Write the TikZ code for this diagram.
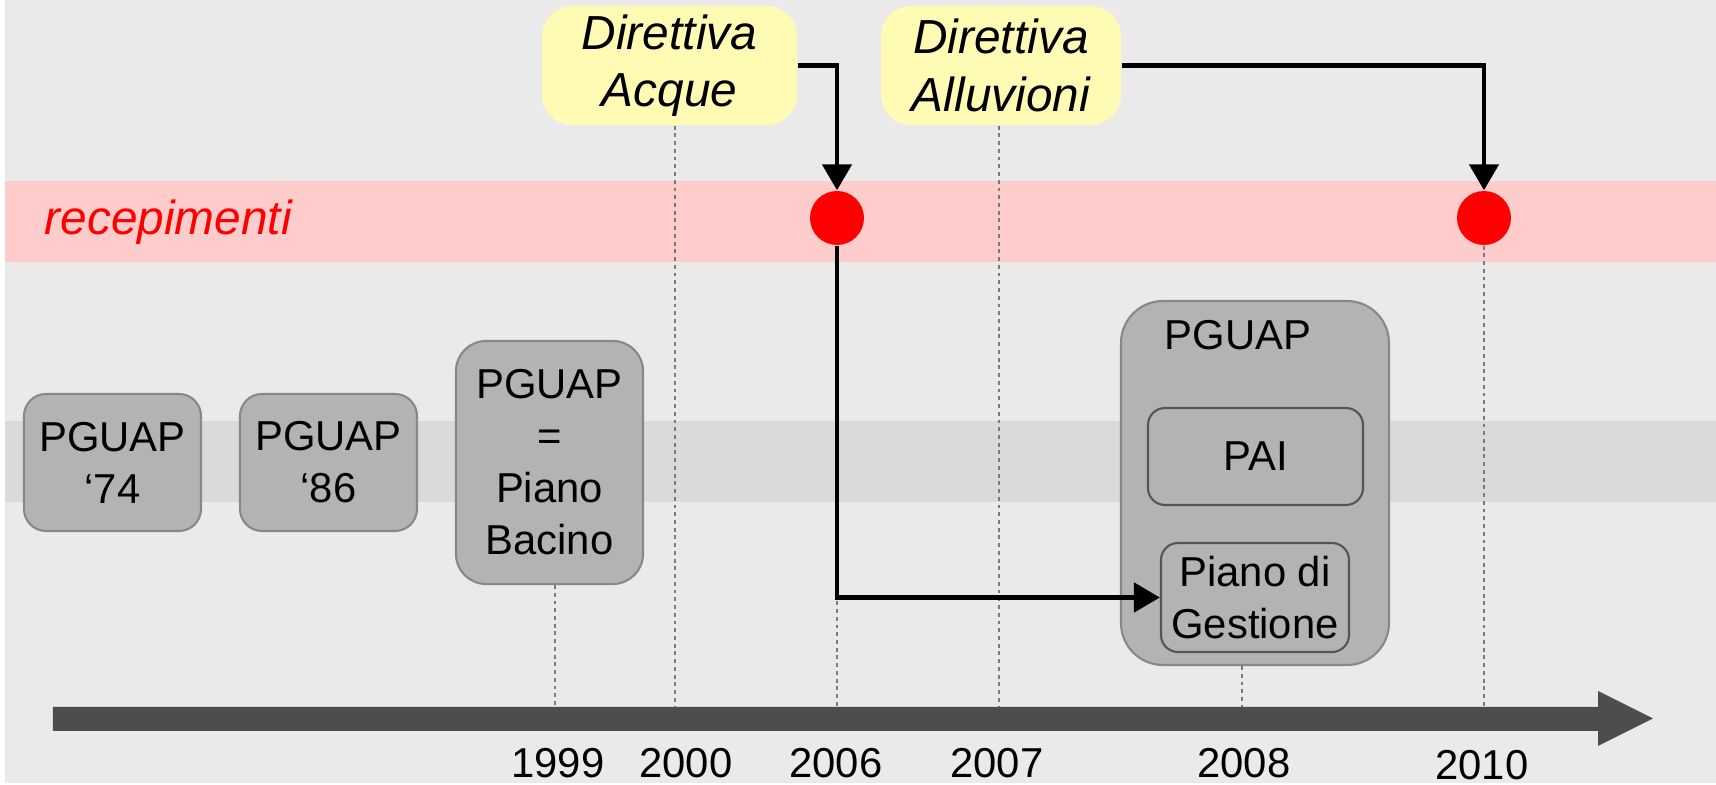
\documentclass[tikz,border=0pt]{standalone}
\usepackage{fontspec}
\setmainfont{Liberation Sans}
\usetikzlibrary{positioning, arrows.meta}

\definecolor{bggray}{HTML}{EAEAEA}
\definecolor{recpink}{HTML}{FFCCCC}
\definecolor{bandgray}{HTML}{DADADA}
\definecolor{boxfill}{HTML}{B3B3B3}
\definecolor{boxedge}{HTML}{888888}
\definecolor{inneredge}{HTML}{555555}
\definecolor{dirfill}{HTML}{FFFAB4}
\definecolor{axisgray}{HTML}{4D4D4D}
\definecolor{guidegray}{HTML}{7A7A7A}

\newcommand{\regtxt}{\fontsize{11.9}{14.8}\selectfont}
\newcommand{\ittxt}{\fontsize{13.6}{16.4}\selectfont\itshape}

\begin{document}
\begin{tikzpicture}[
    piano/.style={draw=boxedge, fill=boxfill, line width=0.6pt, rounded corners=0.22cm, align=center, inner sep=0pt, font=\regtxt},
    subpiano/.style={piano, draw=inneredge, rounded corners=0.17cm},
    direttiva/.style={fill=dirfill, rounded corners=0.3cm, align=center, inner sep=0pt, font=\ittxt},
    recep/.style={circle, fill=red, inner sep=0pt, minimum size=0.54cm},
    anno/.style={anchor=base, font=\regtxt, inner sep=0pt},
    guide/.style={draw=guidegray, line width=0.6pt, dash pattern=on 1.1pt off 1.1pt},
    conn/.style={draw=black, line width=1.4pt, -{Triangle[length=0.26cm,width=0.29cm]}}
]
    \useasboundingbox (0,0) rectangle (17.16,7.85);
    \fill[bggray] (0.05,0.02) rectangle (17.16,7.85);
    \fill[recpink] (0.05,5.23) rectangle (17.16,6.04);
    \fill[bandgray] (0.05,2.83) rectangle (17.16,3.64);

    \node[anchor=base west, inner sep=0pt, text=red, font=\ittxt] (recepimenti) at (0.44,5.50) {recepimenti};

    \node[direttiva, minimum width=2.55cm, minimum height=1.19cm] (acque) at (6.695,7.195) {Direttiva\\Acque};
    \node[direttiva, minimum width=2.40cm, minimum height=1.19cm] (alluvioni) at (10.01,7.195) {Direttiva\\Alluvioni};
    \node[recep] (r06) at (8.37,5.67) {};
    \node[recep] (r10) at (14.84,5.67) {};

    \node[piano, minimum width=1.77cm, minimum height=1.37cm] (pg74) at (1.125,3.225) {PGUAP\\‘74};
    \node[piano, minimum width=1.77cm, minimum height=1.37cm] (pg86) at (3.285,3.225) {PGUAP\\‘86};
    \node[piano, minimum width=1.87cm, minimum height=2.43cm, rounded corners=0.3cm] (pgbacino) at (5.495,3.225) {PGUAP\\=\\Piano\\Bacino};
    \node[piano, minimum width=2.68cm, minimum height=3.64cm, rounded corners=0.42cm] (pg08) at (12.55,3.02) {};
    \node[font=\regtxt, inner sep=0pt] (pg08title) at (12.38,4.50) {PGUAP};
    \node[subpiano, minimum width=2.15cm, minimum height=0.97cm] (pai) at (12.555,3.285) {PAI};
    \node[subpiano, minimum width=1.88cm, minimum height=1.09cm] (gestione) at (12.55,1.875) {Piano di\\Gestione};

    \coordinate (t1999) at (5.55,0.78);
    \coordinate (t2000) at (6.75,0.78);
    \coordinate (t2006) at (8.37,0.78);
    \coordinate (t2007) at (9.99,0.78);
    \coordinate (t2008) at (12.42,0.78);
    \coordinate (t2010) at (14.84,0.78);

    \draw[guide] (t1999 |- pgbacino.south) -- (t1999);
    \draw[guide] (t2000 |- acque.south) -- (t2000);
    \draw[guide] (r06.south) -- (t2006);
    \draw[guide] (t2007 |- alluvioni.south) -- (t2007);
    \draw[guide] (t2008 |- pg08.south) -- (t2008);
    \draw[guide] (r10.south) -- (t2010);

    \fill[axisgray] (0.53,0.54) -- (15.98,0.54) -- (15.98,0.39) -- (16.53,0.665)
        -- (15.98,0.94) -- (15.98,0.78) -- (0.53,0.78) -- cycle;

    \node[anno] (a1999) at (5.58,0.07) {1999};
    \node[anno] (a2000) at (6.86,0.07) {2000};
    \node[anno] (a2006) at (8.36,0.07) {2006};
    \node[anno] (a2007) at (9.97,0.07) {2007};
    \node[anno] (a2008) at (12.44,0.07) {2008};
    \node[anno] (a2010) at (14.82,0.05) {2010};

    \draw[conn] (acque.east) -| (r06.north);
    \draw[conn] (alluvioni.east) -| (r10.north);
    \draw[conn] (r06.south) |- (gestione.west);
\end{tikzpicture}
\end{document}
